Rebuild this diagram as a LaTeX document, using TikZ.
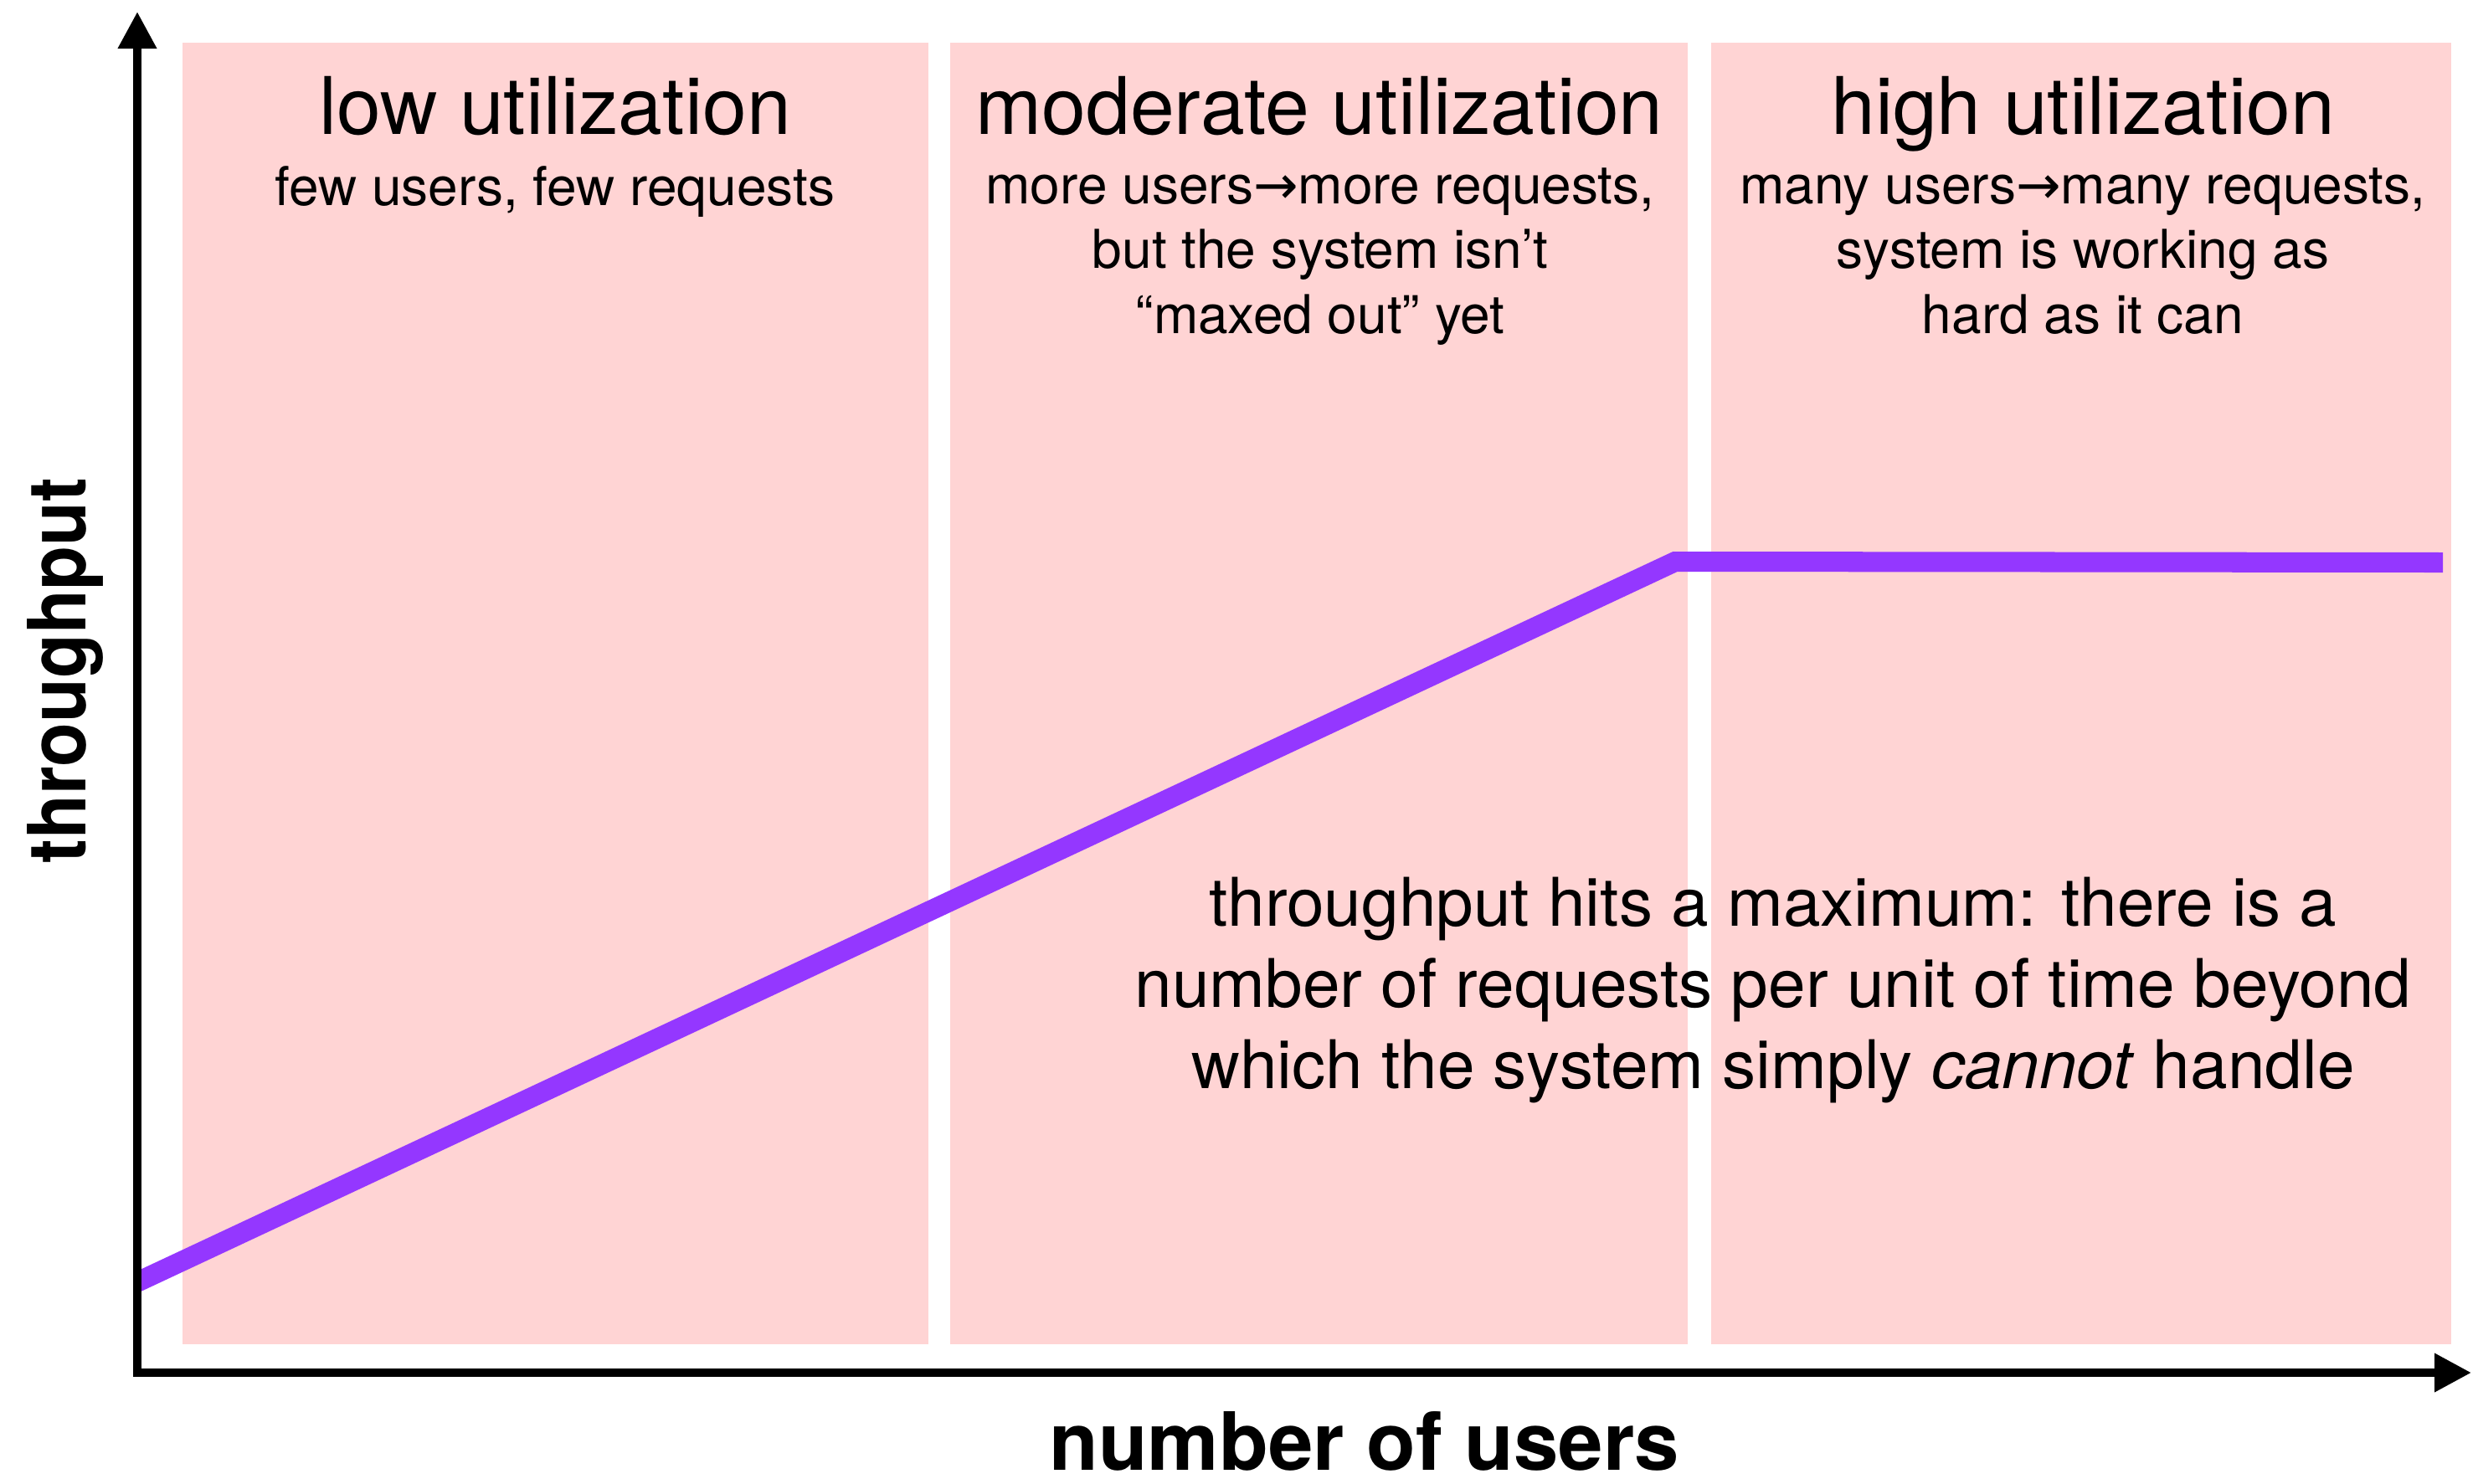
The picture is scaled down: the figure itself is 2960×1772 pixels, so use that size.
\documentclass[tikz,border=0pt]{standalone}
\usepackage{fontspec}
\setmainfont{TeX Gyre Heros}
\newfontfamily\arrowfont{DejaVu Sans}
\usetikzlibrary{arrows.meta}
\definecolor{zonepink}{HTML}{FFD4D4}
\definecolor{curvepurple}{HTML}{9437FF}
\tikzset{
  zone/.style={fill=zonepink, draw=none},
  axisline/.style={line width=2.845pt, -{Triangle[length=0.44cm,width=0.44cm]}},
  zonetitle/.style={font=\fontsize{27}{32}\selectfont, anchor=base, inner sep=0pt},
  zonesub/.style={font=\fontsize{18.2}{21.9}\selectfont, align=center, anchor=base, inner sep=0pt},
  note/.style={font=\fontsize{22.8}{27.5}\selectfont, align=center, anchor=base, inner sep=0pt},
  axislabel/.style={font=\bfseries\fontsize{27.3}{32}\selectfont, anchor=base, inner sep=0pt},
  curve/.style={line width=6.83pt, draw=curvepurple, line join=miter, line cap=butt},
}
\begin{document}
\begin{tikzpicture}[x=0.01cm, y=-0.01cm]
\useasboundingbox (0,0) rectangle (2960,1772);
% zones
\fill[zone] (218,51) rectangle (1109,1606);
\fill[zone] (1135,51) rectangle (2016,1606);
\fill[zone] (2044,51) rectangle (2928,1606);
% titles
\node[zonetitle] (t1) at (663,160) {low utilization};
\node[zonetitle] (t2) at (1576,160) {moderate utilization};
\node[zonetitle] (t3) at (2488,160) {high utilization};
% subtitles (base anchor = baseline of last line)
\node[zonesub] (s1) at (663,245) {few users, few requests};
\node[zonesub] (s2) at (1577,398) {more users{\arrowfont →}more requests,\\but the system isn’t\\“maxed out” yet};
\node[zonesub] (s3) at (2488,398) {many users{\arrowfont →}many requests,\\system is working as\\hard as it can};
% curve
\coordinate (c0) at (140,1543);
\coordinate (c1) at (2001,671);
\coordinate (c2) at (2918,672);
\begin{scope}
\clip (166,0) rectangle (2960,1772);
\draw[curve] (c0) -- (c1) -- (c2);
\end{scope}
% note
\node[note] (n) at (2118,1300) {throughput hits a maximum: there is a\\number of requests per unit of time beyond\\which the system simply \textit{cannot} handle};
% axes
\coordinate (O) at (164,1640);
\coordinate (ytip) at (164,14);
\coordinate (xtip) at (2952,1640);
\draw[axisline] (O) -- (ytip);
\draw[axisline] ([xshift=-0.05cm]O) -- (xtip);
\node[axislabel] (xl) at (1630,1756) {number of users};
\node[axislabel, rotate=90] (yl) at (102,801) {\scalebox{0.9}[1]{throughput}};
\end{tikzpicture}
\end{document}
